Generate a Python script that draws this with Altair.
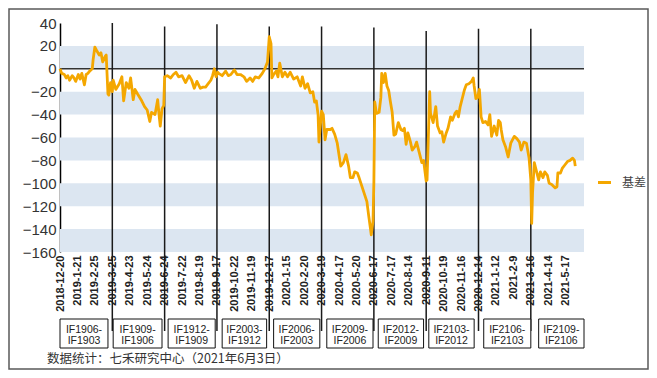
import altair as alt
import pandas as pd

# ---------------- data ----------------
tick_labels = ["2018-12-20", "2019-1-21", "2019-2-25", "2019-3-25", "2019-4-23", "2019-5-24",
               "2019-6-24", "2019-7-22", "2019-8-19", "2019-9-17", "2019-10-22", "2019-11-19",
               "2019-12-17", "2020-1-15", "2020-2-20", "2020-3-19", "2020-4-17", "2020-5-20",
               "2020-6-17", "2020-7-17", "2020-8-14", "2020-9-11", "2020-10-19", "2020-11-16",
               "2020-12-14", "2021-1-12", "2021-2-9", "2021-3-16", "2021-4-14", "2021-5-17"]

# trading-day index (0 = 2018-12-20) and basis value
day = [0, 2, 5, 7, 9, 11, 14, 16, 18, 21, 23, 25, 28, 30, 32, 34, 37, 38, 40, 42, 45, 47, 49, 52, 53,
       55, 56, 58, 60, 61, 64, 68, 71, 73, 76, 79, 81, 84, 86, 89, 93, 95, 97, 100, 103, 105, 109,
       112, 114, 115, 117, 119, 120, 123, 127, 130, 133, 136, 140, 144, 148, 151, 154, 157, 161,
       164, 167, 170, 173, 175, 177, 179, 181, 182, 186, 190, 193, 196, 200, 203, 207, 211, 214,
       218, 221, 224, 228, 232, 235, 238, 240, 242, 243, 245, 248, 250, 252, 255, 258, 261, 264,
       268, 272, 276, 278, 281, 284, 287, 290, 292, 294, 296, 297, 300, 302, 304, 306, 310, 312,
       315, 318, 320, 322, 325, 328, 331, 333, 336, 338, 341, 343, 346, 349, 352, 354, 356, 357,
       359, 360, 361, 363, 366, 368, 369, 371, 373, 375, 377, 379, 381, 383, 385, 388, 391, 393,
       395, 397, 399, 402, 404, 407, 409, 412, 415, 417, 420, 421, 424, 425, 428, 431, 433, 436,
       438, 440, 443, 445, 448, 450, 453, 455, 457, 459, 462, 464, 466, 469, 472, 474, 475, 477,
       479, 481, 483, 485, 488, 491, 493, 495, 498, 501, 503, 505, 506, 508, 511, 514, 517, 521,
       524, 527, 529, 532, 535, 538, 540, 541, 542, 544, 546, 549, 551, 554, 556, 559, 561, 564,
       568, 570, 571, 574, 576, 579, 582, 585, 588, 590, 591]
basis = [0, -4, -5, -8, -6, -10, -6, -8, -11, -5, -9, -4, -14, -5, -4, -2, 0, 8, 19, 16, 12, 14, 6, 11, 12,
         -22, -23, -12, -20, -10, -18, -13, -7, -28, -12, -17, -8, -27, -18, -22, -27, -30, -33, -36, -46,
         -38, -40, -27, -43, -50, -35, -32, -7, -6, -8, -5, -3, -7, -6, -12, -6, -10, -17, -11, -17,
         -16, -16, -13, -10, -6, 0, -7, -3, -4, -6, -2, -6, -5, -1, -5, -5, -7, -11,
         -8, -11, -7, -8, -4, 0, 6, 28, 22, -8, -5, -2, -7, 5, -7, -3, -7, -3,
         -9, -7, -15, -7, -17, -13, -21, -20, -29, -28, -40, -64, -37, -40, -62, -53, -53, -52,
         -57, -65, -75, -85, -82, -75, -85, -95, -95, -90, -91, -95, -102, -109, -116, -128, -139, -145,
         -133, -99, -29, -39, -38, -25, -4, -12, -4, -15, -19, -29, -38, -58, -57, -47, -53, -54,
         -52, -66, -56, -64, -71, -68, -64, -73, -82, -80, -98, -97, -20, -39, -47, -33, -50, -56,
         -55, -64, -56, -52, -42, -45, -39, -37, -42, -33, -24, -18, -14, -13, -11, -8, -15, -26,
         -25, -18, -42, -47, -46, -49, -40, -59, -50, -58, -45, -47, -53, -62, -68, -77, -65, -59,
         -61, -64, -71, -64, -65, -78, -97, -135, -108, -82, -88, -97, -90, -95, -90, -93, -100, -101,
         -104, -103, -91, -91, -87, -84, -81, -80, -78, -80, -85]

roll_day = [60, 120, 180, 240, 300, 360, 420, 480, 540]
roll_top = [40, 37, 39, 37, 37, 36, 33, 35, 35]

box_lo = [0, 61, 124, 186, 245, 306, 365, 423, 486, 549]
box_hi = [55, 117, 178, 237, 298, 359, 417, 475, 540, 601]
box_line1 = ["IF1906-", "IF1909-", "IF1912-", "IF2003-", "IF2006-",
             "IF2009-", "IF2012-", "IF2103-", "IF2106-", "IF2109-"]
box_line2 = ["IF1903", "IF1906", "IF1909", "IF1912", "IF2003",
             "IF2006", "IF2009", "IF2012", "IF2103", "IF2106"]

band_lo = [0, -40, -80, -120, -160]
band_hi = [20, -20, -60, -100, -140]

y_ticks = [40, 20, 0, -20, -40, -60, -80, -100, -120, -140, -160]
series_name = "基差"
footer = "数据统计：七禾研究中心（2021年6月3日）"

# ---------------- frames ----------------
line_df = pd.DataFrame({"day": day, "basis": basis, "series": series_name})
roll_df = pd.DataFrame({"day": roll_day, "top": roll_top})
box_df = pd.DataFrame({"lo": box_lo, "hi": box_hi,
                       "label": [a + "\n" + b for a, b in zip(box_line1, box_line2)]})
band_df = pd.DataFrame({"lo": band_lo, "hi": band_hi})
one_df = pd.DataFrame({"k": [0]})

W, H = 524, 229
ORANGE = "#F4A700"
FONT = "Liberation Sans"
CJK = "Noto Sans CJK SC"

xs = alt.Scale(domain=[0, 601], nice=False, zero=False)
ys = alt.Scale(domain=[-160, 40], nice=False, zero=False)

label_expr = "[" + ",".join("'" + t + "'" for t in tick_labels) + "][round(datum.value/20)]"
xaxis = alt.Axis(values=list(range(0, 600, 20)), labelExpr=label_expr, labelAngle=-90,
                 labelAlign="right", labelBaseline="middle", labelFontSize=11,
                 labelFontWeight="bold", labelFont=FONT, labelColor="#222222",
                 labelPadding=3, ticks=False, domain=False, grid=False, title=None,
                 labelOverlap=False, labelFlush=False)
yaxis = alt.Axis(values=y_ticks, labelFontSize=15, labelFont=FONT, labelColor="#333333",
                 labelPadding=4, ticks=False, domain=True, domainColor="#000000",
                 domainWidth=1.5, grid=False, title=None, labelOverlap=False,
                 labelFlush=False)

bands = alt.Chart(band_df).mark_rect(color="#DCE6F1").encode(
    x=alt.datum(0, scale=xs, axis=xaxis, type="quantitative"),
    x2=alt.datum(601),
    y=alt.Y("lo:Q", scale=ys, axis=yaxis),
    y2="hi:Q",
)

zero = alt.Chart(one_df).mark_rule(color="#333333", strokeWidth=1.5).encode(
    x=alt.datum(0, scale=xs, axis=xaxis, type="quantitative"),
    x2=alt.datum(601),
    y=alt.datum(0, scale=ys, axis=yaxis, type="quantitative"),
)

rolls = alt.Chart(roll_df).mark_rule(color="#1a1a1a", strokeWidth=1.5).encode(
    x=alt.X("day:Q", scale=xs, axis=xaxis),
    y=alt.Y("top:Q", scale=ys, axis=yaxis),
    y2=alt.value(308),
)

line = alt.Chart(line_df).mark_line(strokeWidth=2.8, strokeJoin="round").encode(
    x=alt.X("day:Q", scale=xs, axis=xaxis),
    y=alt.Y("basis:Q", scale=ys, axis=yaxis),
    color=alt.Color("series:N", scale=alt.Scale(range=[ORANGE]),
                    legend=alt.Legend(orient="none", legendX=536, legendY=151, title=None,
                                      symbolType="stroke", symbolStrokeWidth=3,
                                      symbolSize=170, labelFontSize=12, labelFont=CJK,
                                      labelColor="#444444", labelOffset=9, padding=0)),
)

boxes = alt.Chart(box_df).mark_rect(fill="white", stroke="#111111", strokeWidth=1).encode(
    x=alt.X("lo:Q", scale=xs, axis=xaxis),
    x2="hi:Q",
    y=alt.value(296),
    y2=alt.value(325),
)

box_text = alt.Chart(box_df).transform_calculate(mid="(datum.lo + datum.hi) / 2").mark_text(
    lineBreak="\n", fontSize=10.5, font=FONT, color="#222222", lineHeight=10.5,
    align="center", baseline="middle",
).encode(
    x=alt.X("mid:Q", scale=xs, axis=xaxis),
    y=alt.value(307),
    text="label:N",
)

foot = alt.Chart(one_df).mark_text(
    text=footer, fontSize=12.5, font=CJK, color="#333333", align="left", baseline="middle"
).encode(x=alt.value(-13), y=alt.value(336))

frame = alt.Chart(one_df).mark_rect(filled=False, stroke="#5a5a5a", strokeWidth=1.5).encode(
    x=alt.value(-51), x2=alt.value(588), y=alt.value(-14), y2=alt.value(346)
)

chart = alt.layer(bands, zero, rolls, line, boxes, box_text, foot, frame).properties(
    width=W, height=H, autosize="none",
    padding={"left": 52, "top": 15, "right": 65, "bottom": 118},
).configure_view(stroke=None)

chart.save("out.html", embed_options={"renderer": "svg", "actions": False})
